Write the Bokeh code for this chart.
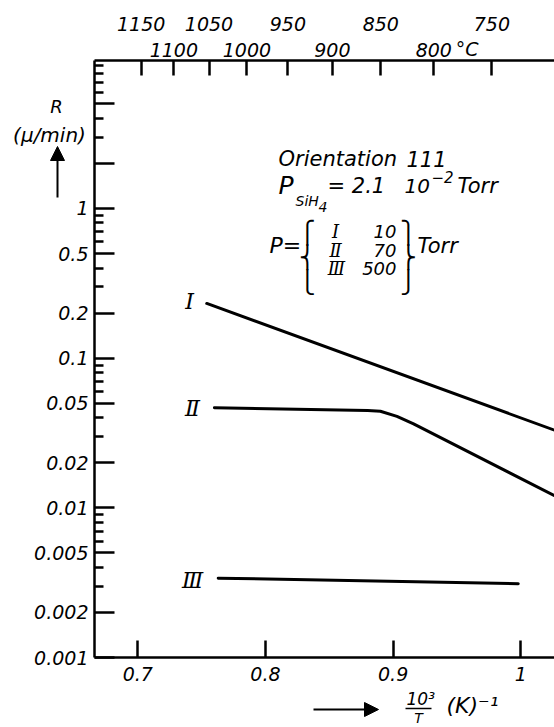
from bokeh.plotting import figure
from bokeh.models import LinearAxis, FixedTicker, Label, Arrow, NormalHead, Range1d
from bokeh.embed import file_html
from bokeh.resources import INLINE

# Growth rate R (µ/min) versus 10^3/T (1/K), one curve per total pressure
inv_T_I = [0.754, 1.10]
rate_I = [0.232, 0.0195]

inv_T_II = [0.760, 0.880, 0.890, 0.903, 0.916, 1.026, 1.10]
rate_II = [0.0466, 0.0447, 0.0442, 0.0408, 0.0364, 0.0121, 0.0058]

inv_T_III = [0.763, 0.998]
rate_III = [0.00339, 0.00311]

# bottom axis (10^3/T)
x_ticks = [0.7, 0.8, 0.9, 1.0]
x_tick_labels = ["0.7", "0.8", "0.9", "1"]

# left axis (R, log scale)
y_ticks = [0.001, 0.002, 0.005, 0.01, 0.02, 0.05, 0.1, 0.2, 0.5, 1, 2, 5]
y_tick_labels = ["0.001", "0.002", "0.005", "0.01", "0.02", "0.05",
                 "0.1", "0.2", "0.5", "1", "", ""]
y_minor_ticks = [0.003, 0.004, 0.006, 0.007, 0.008, 0.009,
                 0.03, 0.04, 0.06, 0.07, 0.08, 0.09,
                 0.3, 0.4, 0.6, 0.7, 0.8, 0.9,
                 3, 4, 6, 7, 8, 9]

# top axis (temperature in °C), labels in two staggered rows
temps_lower_row = [1100, 1000, 900, 800]
temps_upper_row = [1150, 1050, 950, 850, 750]

FONT = "DejaVu Sans"
SERIF = "DejaVu Serif"
W, H = 554, 727

# The frame fills the whole canvas; axes sit at fixed data locations so that
# the titles around them can be drawn as ordinary annotations.
PX_PER_X = 1276.7          # pixels per unit of 10^3/T
X_AT_LEFT_EDGE = 0.7 - 137.3 / PX_PER_X
PX_PER_DECADE = 149.67     # pixels per decade of R
AXIS_LEFT_PX, AXIS_BOTTOM_PX, AXIS_TOP_PX = 94, 657, 60

x_lo = X_AT_LEFT_EDGE
x_hi = X_AT_LEFT_EDGE + W / PX_PER_X
y_lo = 10 ** (-3 - (H - AXIS_BOTTOM_PX) / PX_PER_DECADE)
y_hi = 10 ** (-3 + AXIS_BOTTOM_PX / PX_PER_DECADE)
x_axis_start = X_AT_LEFT_EDGE + AXIS_LEFT_PX / PX_PER_X
y_axis_top = 10 ** (-3 + (AXIS_BOTTOM_PX - AXIS_TOP_PX) / PX_PER_DECADE)

p = figure(width=W, height=H,
           x_range=Range1d(x_lo, x_hi), y_range=Range1d(y_lo, y_hi),
           y_axis_type="log",
           output_backend="svg", toolbar_location=None, min_border=0)
p.grid.visible = False
p.outline_line_color = None
p.background_fill_color = "white"
p.border_fill_color = "white"


def style_axis(ax, size="19px"):
    ax.axis_line_width = 2.5
    ax.axis_line_color = "black"
    ax.major_tick_line_width = 2.5
    ax.minor_tick_line_width = 2.5
    ax.major_tick_line_color = "black"
    ax.minor_tick_line_color = "black"
    ax.major_tick_out = 0
    ax.minor_tick_out = 0
    ax.major_label_text_font = FONT
    ax.major_label_text_font_style = "italic"
    ax.major_label_text_font_size = size
    ax.major_label_text_color = "black"


xa = p.xaxis[0]
xa.ticker = FixedTicker(ticks=x_ticks)
xa.major_label_overrides = {t: s for t, s in zip(x_ticks, x_tick_labels)}
style_axis(xa)
xa.major_tick_in = 17
xa.major_label_standoff = 9
xa.fixed_location = 0.001
xa.bounds = (x_axis_start, x_hi)

ya = p.yaxis[0]
ya.ticker = FixedTicker(ticks=y_ticks, minor_ticks=y_minor_ticks)
ya.major_label_overrides = {t: s for t, s in zip(y_ticks, y_tick_labels)}
style_axis(ya)
ya.major_tick_in = 20
ya.minor_tick_in = 9
ya.major_label_standoff = 6
ya.fixed_location = x_axis_start
ya.bounds = (0.001, y_axis_top)


def inv_temp(t_celsius):
    return 1000.0 / (t_celsius + 273.15)


all_temps = sorted(temps_lower_row + temps_upper_row, reverse=True)

top_a = LinearAxis(ticker=FixedTicker(ticks=[inv_temp(t) for t in all_temps]),
                   major_label_overrides={inv_temp(t): (str(t) if t in temps_lower_row else "")
                                          for t in all_temps})
style_axis(top_a)
top_a.major_tick_in = 15
top_a.major_label_standoff = 4
top_a.fixed_location = y_axis_top
top_a.bounds = (x_axis_start, x_hi)
p.add_layout(top_a, "above")

top_b = LinearAxis(ticker=FixedTicker(ticks=[inv_temp(t) for t in temps_upper_row]),
                   major_label_overrides={inv_temp(t): str(t) for t in temps_upper_row})
style_axis(top_b)
top_b.axis_line_color = None
top_b.major_tick_line_color = None
top_b.major_tick_in = 0
top_b.major_label_standoff = 30
top_b.fixed_location = y_axis_top
top_b.bounds = (x_axis_start, x_hi)
p.add_layout(top_b, "above")

# curves
for xs, ys in ((inv_T_I, rate_I), (inv_T_II, rate_II), (inv_T_III, rate_III)):
    p.line(xs, ys, line_width=3, line_color="black", line_join="round", line_cap="round")


# ---- annotations, positioned in canvas pixels (origin top-left) ----
def note(text, px, py, size, align="left", baseline="middle",
         font=FONT, style="italic"):
    p.add_layout(Label(x=px, y=H - py, x_units="screen", y_units="screen",
                       text=text, text_font=font, text_font_size=f"{size}px",
                       text_font_style=style, text_align=align,
                       text_baseline=baseline, text_color="black"))


def arrow(x0, y0, x1, y1, head=True, width=2):
    p.add_layout(Arrow(x_start=x0, y_start=H - y0, x_end=x1, y_end=H - y1,
                       start_units="screen", end_units="screen",
                       end=NormalHead(size=14, fill_color="black", line_color="black") if head else None,
                       line_width=width, line_color="black"))


# °C unit next to the 800 label
p.add_layout(Label(x=inv_temp(800), y=H - 48, x_units="data", y_units="screen",
                   x_offset=22, text="°C", text_font=FONT, text_font_style="italic",
                   text_font_size="19px", text_baseline="middle", text_color="black"))

# y axis title
note("R", 56, 106, 18, align="center")
note("(µ/min)", 49, 134, 20, align="center")
arrow(57, 197, 57, 146)

# x axis title
arrow(313, 709, 378, 709)
note("10³", 406, 698, 17)
arrow(405, 708, 431, 708, head=False, width=1.5)
note("T", 418, 717, 14, align="center")
note("(K)⁻¹", 446, 705, 22)

# curve numerals
note("Ⅰ", 189, 301, 22, align="center", font=SERIF)
note("Ⅱ", 192, 408, 22, align="center", font=SERIF)
note("Ⅲ", 192, 580, 22, align="center", font=SERIF)

# conditions
note("Orientation", 278, 158, 21)
note("111", 406, 158, 21)
note("P", 278, 185, 25)
note("SiH", 295, 200, 14)
note("4", 318, 206, 14)
note("= 2.1", 327, 185, 21)
note("10", 404, 185, 20)
note("−2", 431, 176, 15)
note("Torr", 457, 185, 21)

note("P=", 269, 245, 22)
for piece, yb in (("⎧", 232), ("⎨", 257), ("⎩", 282)):
    note(piece, 307, yb, 22, align="center", baseline="alphabetic", style="normal")
note("Ⅰ", 335, 231, 18, align="center", font=SERIF)
note("Ⅱ", 335, 250, 18, align="center", font=SERIF)
note("Ⅲ", 336, 268, 18, align="center", font=SERIF)
note("10", 396, 231, 18, align="right")
note("70", 396, 250, 18, align="right")
note("500", 396, 268, 18, align="right")
for piece, yb in (("⎫", 232), ("⎬", 257), ("⎭", 282)):
    note(piece, 408, yb, 22, align="center", baseline="alphabetic", style="normal")
note("Torr", 417, 245, 21)

open("out.html", "w").write(file_html(p, INLINE))
